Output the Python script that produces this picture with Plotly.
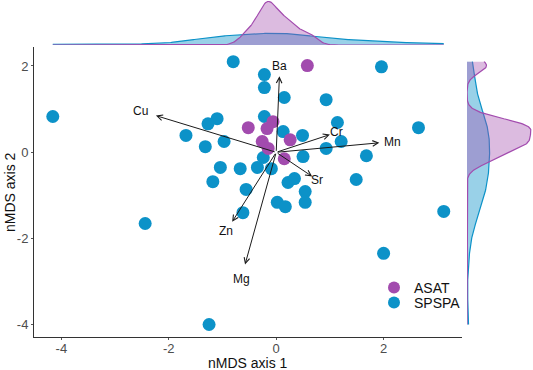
import numpy as np
import plotly.graph_objects as go

# ---------------- data ----------------
asat_x = [0.58, -0.52, -0.06, -0.17, 0.26, -0.26, -0.15, 0.15]
asat_y = [2.01, 0.57, 0.71, 0.55, 0.29, 0.25, 0.09, -0.15]

spspa_x = [-4.16, -0.80, -0.22, -0.22, 0.15, 0.93, 1.96, 1.14, 2.65, -0.22,
           -1.10, -1.27, -1.68, -1.32, -0.97, 0.13, 0.49, 1.21, 0.93, 1.68,
           0.50, -0.24, -0.67, -0.35, -0.09, -1.04, -1.18, -0.56, 0.22, 0.34,
           1.49, 0.54, 0.54, 0.02, 0.17, -0.62, 3.12, -2.44, -1.25, 2.00]
spspa_y = [0.83, 2.10, 1.80, 1.50, 1.27, 1.22, 1.98, 0.69, 0.57, 0.83,
           0.78, 0.66, 0.39, 0.13, 0.25, 0.48, 0.39, 0.25, 0.09, -0.08,
           -0.10, -0.12, -0.38, -0.35, -0.38, -0.35, -0.68, -0.86, -0.70, -0.61,
           -0.63, -0.91, -1.16, -1.16, -1.26, -1.40, -1.37, -1.65, -3.99, -2.34]

env_vars = ["Ba", "Cu", "Cr", "Mn", "Sr", "Zn", "Mg"]
load_x = [0.06, -2.24, 1.00, 1.92, 0.67, -0.82, -0.58]
load_y = [1.76, 0.85, 0.41, 0.22, -0.56, -1.61, -2.60]

x_ticks = [-4, -2, 0, 2]
x_tick_labels = ["-4", "-2", "0", "2"]
y_ticks = [-4, -2, 0, 2]
y_tick_labels = ["-4", "-2", "0", "2"]
x_title = "nMDS axis 1"
y_title = "nMDS axis 2"

# ---------------- styling ----------------
W, H = 533, 370
C_ASAT = "#A24BAE"
C_SPSPA = "#0C92C8"
F_ASAT = "rgba(162,75,174,0.38)"
F_SPSPA = "rgba(12,146,200,0.42)"
FONT = "Liberation Sans, Arial, sans-serif"
LABEL_SCALE = 1.13


def nrd0(v):
    v = np.asarray(v, float)
    sd = v.std(ddof=1)
    q75, q25 = np.percentile(v, [75, 25])
    lo = min(sd, (q75 - q25) / 1.34)
    if lo <= 0:
        lo = sd
    return 0.9 * lo * len(v) ** -0.2


def kde(v, grid):
    v = np.asarray(v, float)
    bw = nrd0(v)
    z = (grid[:, None] - v[None, :]) / bw
    return np.exp(-0.5 * z ** 2).sum(1) / (len(v) * bw * np.sqrt(2 * np.pi))


all_x = np.array(asat_x + spspa_x)
all_y = np.array(asat_y + spspa_y)
gx = np.linspace(all_x.min(), all_x.max(), 512)
gy = np.linspace(all_y.min(), all_y.max(), 512)
dx_a, dx_s = kde(asat_x, gx), kde(spspa_x, gx)
dy_a, dy_s = kde(asat_y, gy), kde(spspa_y, gy)

fig = go.Figure()

# main scatter
fig.add_trace(go.Scatter(x=spspa_x, y=spspa_y, mode="markers", name="SPSPA",
                         marker=dict(size=13, color=C_SPSPA), legend="legend2"))
fig.add_trace(go.Scatter(x=asat_x, y=asat_y, mode="markers", name="ASAT",
                         marker=dict(size=13, color=C_ASAT), legend="legend"))

# top marginal densities
fig.add_trace(go.Scatter(x=gx, y=dx_s, mode="lines", fill="tozeroy", fillcolor=F_SPSPA,
                         line=dict(color=C_SPSPA, width=1.2), xaxis="x2", yaxis="y2",
                         showlegend=False, hoverinfo="skip"))
fig.add_trace(go.Scatter(x=gx, y=dx_a, mode="lines", fill="tozeroy", fillcolor=F_ASAT,
                         line=dict(color=C_ASAT, width=1.2), xaxis="x2", yaxis="y2",
                         showlegend=False, hoverinfo="skip"))
# right marginal densities
fig.add_trace(go.Scatter(x=dy_s, y=gy, mode="lines", fill="tozerox", fillcolor=F_SPSPA,
                         line=dict(color=C_SPSPA, width=1.2), xaxis="x3", yaxis="y3",
                         showlegend=False, hoverinfo="skip"))
fig.add_trace(go.Scatter(x=dy_a, y=gy, mode="lines", fill="tozerox", fillcolor=F_ASAT,
                         line=dict(color=C_ASAT, width=1.2), xaxis="x3", yaxis="y3",
                         showlegend=False, hoverinfo="skip"))

# loading arrows + labels
annotations = []
for name, lx, ly in zip(env_vars, load_x, load_y):
    annotations.append(dict(x=lx, y=ly, ax=0, ay=0, xref="x", yref="y", axref="x", ayref="y",
                            showarrow=True, arrowhead=5, arrowsize=1.1, arrowwidth=1,
                            arrowcolor="#1a1a1a", text=""))
    annotations.append(dict(x=lx * LABEL_SCALE, y=ly * LABEL_SCALE, xref="x", yref="y",
                            text=name, showarrow=False,
                            font=dict(family=FONT, size=12, color="#111")))

x_dom = [34 / W, 462 / W]
y_dom = [(H - 337) / H, (H - 47) / H]

# axis titles
annotations.append(dict(text=x_title, xref="paper", yref="paper",
                        x=(x_dom[0] + x_dom[1]) / 2, y=(H - 363) / H,
                        xanchor="center", yanchor="middle", showarrow=False,
                        font=dict(family=FONT, size=14, color="#111")))
annotations.append(dict(text=y_title, xref="paper", yref="paper",
                        x=10 / W, y=(y_dom[0] + y_dom[1]) / 2, textangle=-90,
                        xanchor="center", yanchor="middle", showarrow=False,
                        font=dict(family=FONT, size=14, color="#111")))

axis_common = dict(showgrid=False, zeroline=False, showline=True, linecolor="#333",
                   linewidth=1, ticks="outside", ticklen=2, tickcolor="#555",
                   tickfont=dict(family=FONT, size=13, color="#4D4D4D"),
                   automargin=False)

top_max = max(dx_a.max(), dx_s.max())
right_max = max(dy_a.max(), dy_s.max())

legend_common = dict(xanchor="left", yanchor="top", bgcolor="rgba(0,0,0,0)",
                     font=dict(family=FONT, size=14, color="#111"),
                     itemwidth=30, itemsizing="constant")

fig.update_layout(
    width=W, height=H, autosize=False,
    margin=dict(l=0, r=0, t=0, b=0),
    paper_bgcolor="white", plot_bgcolor="white",
    font=dict(family=FONT),
    xaxis=dict(domain=x_dom, range=[-4.51, 3.46], tickvals=x_ticks, ticktext=x_tick_labels,
               anchor="y", ticklabelstandoff=-3, **axis_common),
    yaxis=dict(domain=y_dom, range=[-4.28, 2.44], tickvals=y_ticks, ticktext=y_tick_labels,
               anchor="x", **axis_common),
    xaxis2=dict(domain=x_dom, matches="x", anchor="y2", visible=False),
    yaxis2=dict(domain=[(H - 45) / H, (H - 1) / H], range=[0, top_max * 1.01],
                anchor="x2", visible=False),
    xaxis3=dict(domain=[467 / W, 1], range=[0, right_max * 66 / 64], anchor="y3", visible=False),
    yaxis3=dict(domain=y_dom, matches="y", anchor="x3", visible=False),
    legend=dict(x=374 / W, y=(H - 272) / H, **legend_common),
    legend2=dict(x=374 / W, y=(H - 287) / H, **legend_common),
    annotations=annotations,
    showlegend=True,
)

fig.write_html("out.html", config={"displayModeBar": False},
               post_script="document.body.style.margin='0';document.body.style.overflow='hidden';")
